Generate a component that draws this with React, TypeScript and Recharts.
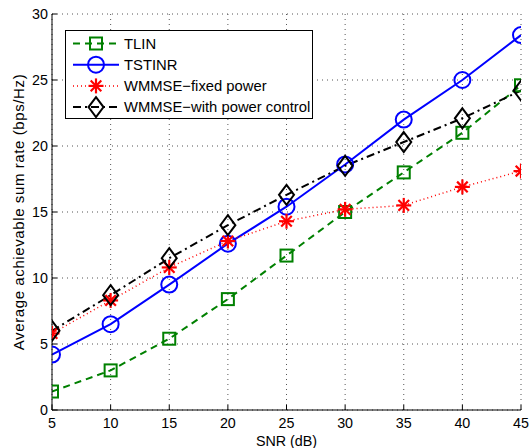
import React from 'react';
import { LineChart, Line, XAxis, YAxis, CartesianGrid, Legend } from 'recharts';

const snr = [5, 10, 15, 20, 25, 30, 35, 40, 45];
const tlin = [1.4, 3.0, 5.4, 8.4, 11.7, 15.0, 18.0, 21.0, 24.6];
const tstinr = [4.2, 6.5, 9.5, 12.6, 15.4, 18.6, 22.0, 25.0, 28.4];
const wmmseFixed = [5.8, 8.3, 10.8, 12.8, 14.3, 15.2, 15.5, 16.9, 18.1];
const wmmsePC = [6.0, 8.7, 11.5, 14.0, 16.3, 18.5, 20.3, 22.1, 24.2];

const xTicks = [5, 10, 15, 20, 25, 30, 35, 40, 45];
const yTicks = [0, 5, 10, 15, 20, 25, 30];
const seriesNames = ['TLIN', 'TSTINR', 'WMMSE\u2212fixed power', 'WMMSE\u2212with power control'];

const data = snr.map((s, i) => ({
  snr: s,
  tlin: tlin[i],
  tstinr: tstinr[i],
  wmmseFixed: wmmseFixed[i],
  wmmsePC: wmmsePC[i],
}));

const GREEN = '#008000';
const BLUE = '#0000ff';
const RED = '#ff0000';
const BLACK = '#000000';

const Square = ({ cx, cy }: any) => (
  <rect x={cx - 6} y={cy - 6} width={12} height={12} fill="none" stroke={GREEN} strokeWidth={2} />
);
const Circle = ({ cx, cy }: any) => (
  <circle cx={cx} cy={cy} r={8} fill="none" stroke={BLUE} strokeWidth={2} />
);
const Star = ({ cx, cy }: any) => {
  const r = 7.5;
  const d = r * Math.SQRT1_2;
  return (
    <g stroke={RED} strokeWidth={2.2}>
      <line x1={cx - r} y1={cy} x2={cx + r} y2={cy} />
      <line x1={cx} y1={cy - r} x2={cx} y2={cy + r} />
      <line x1={cx - d} y1={cy - d} x2={cx + d} y2={cy + d} />
      <line x1={cx - d} y1={cy + d} x2={cx + d} y2={cy - d} />
    </g>
  );
};
const Diamond = ({ cx, cy }: any) => (
  <polygon
    points={`${cx},${cy - 10} ${cx + 7.5},${cy} ${cx},${cy + 10} ${cx - 7.5},${cy}`}
    fill="none"
    stroke={BLACK}
    strokeWidth={2}
  />
);

const mk = (C: any) => (props: any) => <C key={props.key ?? `${props.cx}-${props.cy}`} cx={props.cx} cy={props.cy} />;

const legendStyles = [
  { stroke: GREEN, dash: '7 5', width: 2, M: Square },
  { stroke: BLUE, dash: undefined, width: 2, M: Circle },
  { stroke: RED, dash: '1 3', width: 1.5, M: Star },
  { stroke: BLACK, dash: '8 4 2 4', width: 2, M: Diamond },
];

const LegendBox = () => (
  <svg width={248} height={89} style={{ display: 'block' }}>
    <rect x={0.5} y={0.5} width={247} height={88} fill="#fff" stroke="#000" strokeWidth={1} />
    {seriesNames.map((name, i) => {
      const st = legendStyles[i];
      const y = 13.5 + i * 21.2;
      const M = st.M;
      return (
        <g key={name}>
          <line x1={8} y1={y} x2={54} y2={y} stroke={st.stroke} strokeWidth={st.width} strokeDasharray={st.dash} />
          <M cx={31} cy={y} />
          <text x={59} y={y + 5} fontSize={14.8} fill="#000">{name}</text>
        </g>
      );
    })}
  </svg>
);

export default function App() {
  return (
    <div style={{ position: 'absolute', left: 0, top: 0, fontFamily: '"Liberation Sans", Arial, sans-serif' }}>
      <LineChart width={529} height={448} data={data} margin={{ top: 14, right: 8, left: 0, bottom: 0 }}>
        <CartesianGrid stroke="#555" strokeDasharray="1 4" />
        <XAxis
          dataKey="snr"
          type="number"
          domain={[5, 45]}
          ticks={xTicks}
          height={38}
          tickSize={-5}
          tickMargin={13}
          stroke="#000"
          tick={{ fill: '#000', fontSize: 14.3 }}
          allowDataOverflow
          label={{ value: 'SNR (dB)', position: 'insideBottom', offset: 2, fill: '#000', fontSize: 14.3 }}
        />
        <XAxis
          xAxisId="top"
          orientation="top"
          dataKey="snr"
          type="number"
          domain={[5, 45]}
          ticks={xTicks}
          height={0}
          tickSize={-5}
          tickFormatter={() => ''}
          stroke="#000"
        />
        <YAxis
          type="number"
          domain={[0, 30]}
          ticks={yTicks}
          width={52}
          tickSize={-5}
          tickMargin={9}
          stroke="#000"
          tick={{ fill: '#000', fontSize: 14.3 }}
          label={{
            value: 'Average achievable sum rate (bps/Hz)',
            angle: -90,
            position: 'center',
            dx: -7.3,
            fill: '#000',
            fontSize: 15,
            style: { letterSpacing: '0.6px' },
          }}
        />
        <YAxis
          yAxisId="right"
          orientation="right"
          type="number"
          domain={[0, 30]}
          ticks={yTicks}
          width={0}
          tickSize={-5}
          tickFormatter={() => ''}
          stroke="#000"
        />
        <Legend
          layout="vertical"
          align="center"
          verticalAlign="middle"
          wrapperStyle={{ left: 65, top: 30, width: 248, height: 89 }}
          content={() => <LegendBox />}
        />
        <Line dataKey="tlin" stroke={GREEN} strokeWidth={2} strokeDasharray="7 5" dot={mk(Square)} isAnimationActive={false} />
        <Line dataKey="tstinr" stroke={BLUE} strokeWidth={2} dot={mk(Circle)} isAnimationActive={false} />
        <Line dataKey="wmmseFixed" stroke={RED} strokeWidth={1.5} strokeDasharray="1 3" dot={mk(Star)} isAnimationActive={false} />
        <Line dataKey="wmmsePC" stroke={BLACK} strokeWidth={2} strokeDasharray="8 4 2 4" dot={mk(Diamond)} isAnimationActive={false} />
      </LineChart>
    </div>
  );
}
